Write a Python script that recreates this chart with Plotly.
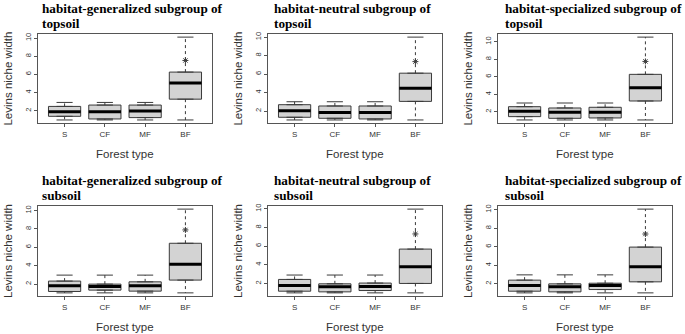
import plotly.graph_objects as go

W, H = 685, 334

categories = ["S", "CF", "MF", "BF"]
cat_pos = [1, 2, 3, 4]
y_ticks = [2, 4, 6, 8, 10]

titles_line1 = [
    "habitat-generalized subgroup of",
    "habitat-neutral subgroup of",
    "habitat-specialized subgroup of",
    "habitat-generalized subgroup of",
    "habitat-neutral subgroup of",
    "habitat-specialized subgroup of",
]
titles_line2 = ["topsoil", "topsoil", "topsoil", "subsoil", "subsoil", "subsoil"]

# box statistics per panel, values for S, CF, MF, BF
whisker_low = [
    [0.98, 0.98, 0.98, 0.98],
    [1.04, 1.04, 1.04, 1.04],
    [1.05, 1.05, 1.05, 1.05],
    [1.05, 1.05, 1.05, 1.05],
    [0.99, 0.99, 0.99, 0.99],
    [1.03, 1.03, 1.03, 1.03],
]
q1 = [
    [1.38, 1.09, 1.24, 3.27],
    [1.33, 1.22, 1.15, 3.05],
    [1.43, 1.24, 1.28, 3.22],
    [1.20, 1.35, 1.24, 2.44],
    [1.17, 1.10, 1.24, 2.00],
    [1.21, 1.14, 1.39, 2.22],
]
median = [
    [1.89, 1.89, 1.96, 5.05],
    [2.04, 1.86, 1.86, 4.48],
    [2.04, 1.92, 1.92, 4.74],
    [1.82, 1.75, 1.82, 4.15],
    [1.78, 1.64, 1.68, 3.80],
    [1.82, 1.68, 1.82, 3.84],
]
q3 = [
    [2.47, 2.62, 2.62, 6.25],
    [2.69, 2.55, 2.55, 6.10],
    [2.57, 2.42, 2.50, 6.27],
    [2.33, 2.00, 2.25, 6.44],
    [2.43, 1.96, 2.04, 5.68],
    [2.40, 2.00, 2.07, 5.96],
]
whisker_high = [
    [2.91, 2.91, 2.91, 10.10],
    [3.01, 3.01, 3.01, 10.00],
    [2.99, 2.99, 2.99, 10.53],
    [2.98, 2.98, 2.98, 10.15],
    [2.90, 2.90, 2.90, 9.96],
    [2.97, 2.97, 2.97, 10.05],
]
star_bf = [7.53, 7.35, 7.75, 7.89, 7.30, 7.37]

# layout in pixels
col_left = [38, 268, 498]
col_right = [212, 442, 672]
row_top = [32, 205]
row_bottom = [122, 296]
title_x = [[39.5, 272, 502.5], [40, 272, 503]]
title_mid = [[7, 22], [180, 195]]

def px_x(v):
    return v / W

def px_y(v):
    return 1 - v / H

BOX_FILL = "#d3d3d3"
EDGE = "#3a3a3a"
FRAME = "#555555"
TEXT = "#333333"

fig = go.Figure()
annotations = []
layout_axes = {}

for i in range(6):
    r, c = divmod(i, 3)
    xa = "x" if i == 0 else f"x{i + 1}"
    ya = "y" if i == 0 else f"y{i + 1}"
    xkey = "xaxis" if i == 0 else f"xaxis{i + 1}"
    ykey = "yaxis" if i == 0 else f"yaxis{i + 1}"

    fig.add_trace(go.Box(
        x=cat_pos, q1=q1[i], median=median[i], q3=q3[i],
        lowerfence=q1[i], upperfence=q3[i],
        width=0.8, fillcolor=BOX_FILL,
        line=dict(color=EDGE, width=1),
        boxpoints=False, showlegend=False, hoverinfo="skip",
        xaxis=xa, yaxis=ya,
    ))

    wx, wy, cx, cy, mx, my = [], [], [], [], [], []
    for k, p in enumerate(cat_pos):
        wx += [p, p, None, p, p, None]
        wy += [q3[i][k], whisker_high[i][k], None, q1[i][k], whisker_low[i][k], None]
        cx += [p - 0.2, p + 0.2, None, p - 0.2, p + 0.2, None]
        cy += [whisker_high[i][k], whisker_high[i][k], None,
               whisker_low[i][k], whisker_low[i][k], None]
        mx += [p - 0.4, p + 0.4, None]
        my += [median[i][k], median[i][k], None]

    fig.add_trace(go.Scatter(x=wx, y=wy, mode="lines",
                             line=dict(color=EDGE, width=1, dash="3px,3px"),
                             showlegend=False, hoverinfo="skip", xaxis=xa, yaxis=ya))
    fig.add_trace(go.Scatter(x=cx, y=cy, mode="lines",
                             line=dict(color=EDGE, width=1),
                             showlegend=False, hoverinfo="skip", xaxis=xa, yaxis=ya))
    fig.add_trace(go.Scatter(x=mx, y=my, mode="lines",
                             line=dict(color="#000000", width=3),
                             showlegend=False, hoverinfo="skip", xaxis=xa, yaxis=ya))
    fig.add_trace(go.Scatter(x=[cat_pos[3]], y=[star_bf[i]], mode="markers",
                             marker=dict(symbol="asterisk-open", size=5, color=EDGE,
                                         line=dict(color=EDGE, width=1)),
                             showlegend=False, hoverinfo="skip", xaxis=xa, yaxis=ya))

    lo = min(whisker_low[i])
    hi = max(whisker_high[i])
    pad = 0.04 * (hi - lo)

    layout_axes[xkey] = dict(
        domain=[px_x(col_left[c]), px_x(col_right[c])],
        anchor=ya, range=[0.34, 4.66],
        tickmode="array", tickvals=cat_pos, ticktext=categories,
        ticks="outside", ticklen=3, tickcolor=FRAME,
        tickfont=dict(family="Liberation Sans, Arial", size=8, color=TEXT),
        showline=True, mirror=True, linecolor=FRAME, linewidth=1,
        showgrid=False, zeroline=False, fixedrange=True,
    )
    layout_axes[ykey] = dict(
        domain=[px_y(row_bottom[r]), px_y(row_top[r])],
        anchor=xa, range=[lo - pad, hi + pad],
        tickmode="array", tickvals=y_ticks,
        ticks="outside", ticklen=3, tickcolor=FRAME, tickangle=-90,
        tickfont=dict(family="Liberation Sans, Arial", size=7.5, color=TEXT),
        showline=True, mirror=True, linecolor=FRAME, linewidth=1,
        showgrid=False, zeroline=False, fixedrange=True,
    )

    for line_text, ymid in zip([titles_line1[i], titles_line2[i]], title_mid[r]):
        annotations.append(dict(
            text=f"<b>{line_text}</b>", xref="paper", yref="paper",
            x=px_x(title_x[r][c]), y=px_y(ymid), xanchor="left", yanchor="middle",
            showarrow=False,
            font=dict(family="Liberation Serif, Times New Roman", size=13.2, color="#000000"),
        ))
    annotations.append(dict(
        text="Levins niche width", xref="paper", yref="paper",
        x=px_x(col_left[c] - 30), y=px_y((row_top[r] + row_bottom[r]) / 2),
        xanchor="center", yanchor="middle", textangle=-90, showarrow=False,
        font=dict(family="Liberation Sans, Arial", size=11.5, color=TEXT),
    ))
    annotations.append(dict(
        text="Forest type", xref="paper", yref="paper",
        x=px_x((col_left[c] + col_right[c]) / 2), y=px_y(row_bottom[r] + 31),
        xanchor="center", yanchor="middle", showarrow=False,
        font=dict(family="Liberation Sans, Arial", size=11.5, color=TEXT),
    ))

fig.update_layout(
    width=W, height=H,
    margin=dict(l=0, r=0, t=0, b=0),
    paper_bgcolor="white", plot_bgcolor="white",
    annotations=annotations,
    **layout_axes,
)

fig.write_html("out.html", config={"displayModeBar": False},
               post_script="document.body.style.margin='0px';")
